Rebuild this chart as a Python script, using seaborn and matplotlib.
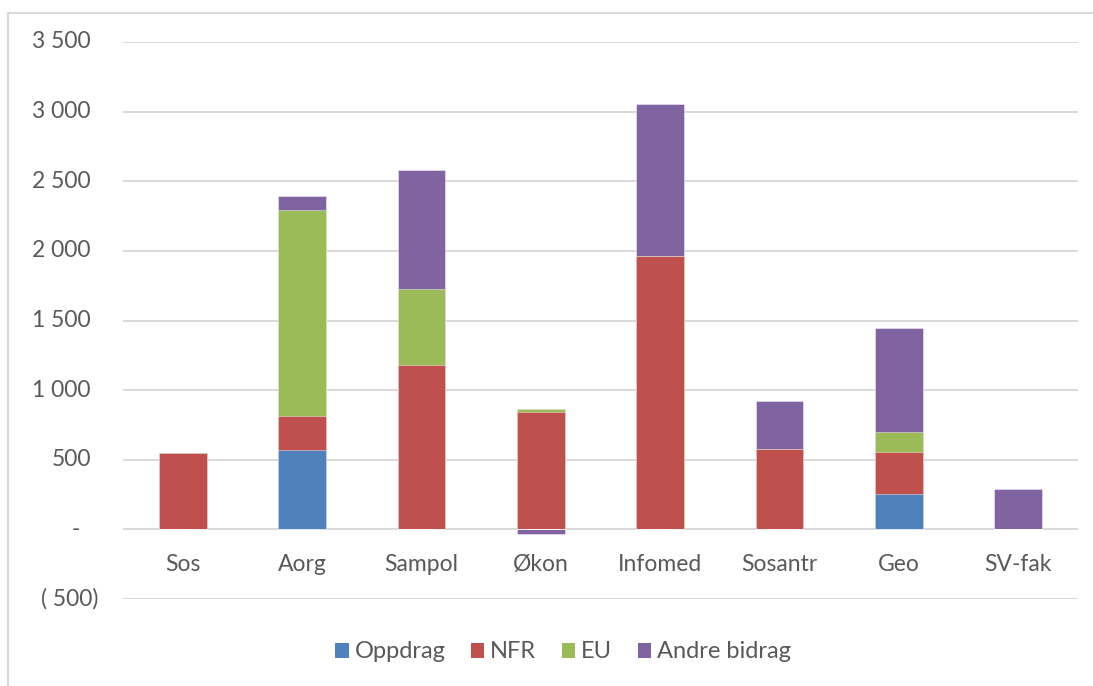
"""
Stacked bar chart of external funding per department (Oppdrag, NFR, EU, Andre bidrag).
"""
import numpy as np
import matplotlib
matplotlib.use('Agg')
import matplotlib.pyplot as plt
import seaborn as sns
from matplotlib.patches import Patch
from matplotlib.lines import Line2D

# Data
categories = ['Sos', 'Aorg', 'Sampol', 'Økon', 'Infomed', 'Sosantr', 'Geo', 'SV-fak']
oppdrag = [0, 573, 0, 0, 0, 0, 257, 0]
nfr = [545, 242, 1183, 844, 1965, 580, 299, 0]
eu = [0, 1481, 545, 20, 0, 0, 140, 0]
andre = [0, 101, 856, -33, 1089, 341, 750, 290]

series_names = ['Oppdrag', 'NFR', 'EU', 'Andre bidrag']
series_colors = ['#4F81BD', '#C0504D', '#9BBB59', '#8064A2']

y_ticks = [-500, 0, 500, 1000, 1500, 2000, 2500, 3000, 3500]
y_labels = ['( 500)', '-', '500', '1 000', '1 500', '2 000', '2 500', '3 000', '3 500']

TEXT_COLOR = '#595959'
GRID_COLOR = '#D9D9D9'

sns.set_theme(style='white')
plt.rcParams['font.family'] = ['Lato', 'DejaVu Sans']

W, H = 1093, 686
fig = plt.figure(figsize=(W / 100, H / 100), dpi=100)
ax = fig.add_axes([123 / W, 1 - 599 / H, (1078 - 123) / W, (599 - 42) / H])

# Stack positives upwards and negatives downwards, like Excel does
values = np.array([oppdrag, nfr, eu, andre], dtype=float)
pos_cum = np.clip(values, 0, None).cumsum(axis=0)
neg_cum = np.clip(values, None, 0).cumsum(axis=0)

# Draw cumulative layers from the top series down so lower ones cover them
for i in reversed(range(len(series_names))):
    for stack in (pos_cum, neg_cum):
        sns.barplot(x=categories, y=stack[i], order=categories,
                    color=series_colors[i], saturation=1, width=0.4,
                    errorbar=None, edgecolor=(1, 1, 1, 0.5), linewidth=0.6,
                    ax=ax)

ax.set_ylim(-500, 3500)
ax.set_xlim(-0.5, len(categories) - 0.5)
ax.set_yticks(y_ticks)
ax.set_yticklabels([])
ax.yaxis.grid(True, color=GRID_COLOR, linewidth=1.4)
ax.set_axisbelow(True)
ax.tick_params(axis='y', left=False, length=0)
for side in ['top', 'right', 'left', 'bottom']:
    ax.spines[side].set_visible(False)

# Category labels sit just under the zero line
ax.spines['bottom'].set_position(('data', 0))
ax.tick_params(axis='x', bottom=False, length=0, pad=17.5,
               labelsize=16.5, labelcolor=TEXT_COLOR)
ax.set_xlabel('')
ax.set_ylabel('')

# Accounting-style y labels
ytrans = ax.get_yaxis_transform()
axw = (1078 - 123)
for v, lab in zip(y_ticks, y_labels):
    if lab == '-':
        ax.text((76 - 123) / axw, v, lab, transform=ytrans, ha='center',
                va='center', fontsize=16.5, color=TEXT_COLOR)
    elif lab.startswith('('):
        ax.text((98 - 123) / axw, v, lab, transform=ytrans, ha='right',
                va='center', fontsize=16.5, color=TEXT_COLOR)
    else:
        ax.text((91 - 123) / axw, v, lab, transform=ytrans, ha='right',
                va='center', fontsize=16.5, color=TEXT_COLOR)

# Legend
handles = [Patch(facecolor=c, edgecolor='none') for c in series_colors]
fig.legend(handles, series_names, loc='center',
           bbox_to_anchor=(563 / W, 1 - 652 / H), ncol=4, frameon=False,
           fontsize=17, handlelength=0.59, handleheight=0.59,
           handletextpad=0.25, columnspacing=1.06, labelcolor=TEXT_COLOR)

# Chart border (left and top edges visible)
fig.add_artist(Line2D([8 / W, 8 / W], [0, 1 - 13 / H], transform=fig.transFigure,
                      color=GRID_COLOR, linewidth=1.5))
fig.add_artist(Line2D([8 / W, 1], [1 - 13 / H, 1 - 13 / H], transform=fig.transFigure,
                      color=GRID_COLOR, linewidth=1.5))

fig.savefig('out.png', dpi=100)
plt.close(fig)
